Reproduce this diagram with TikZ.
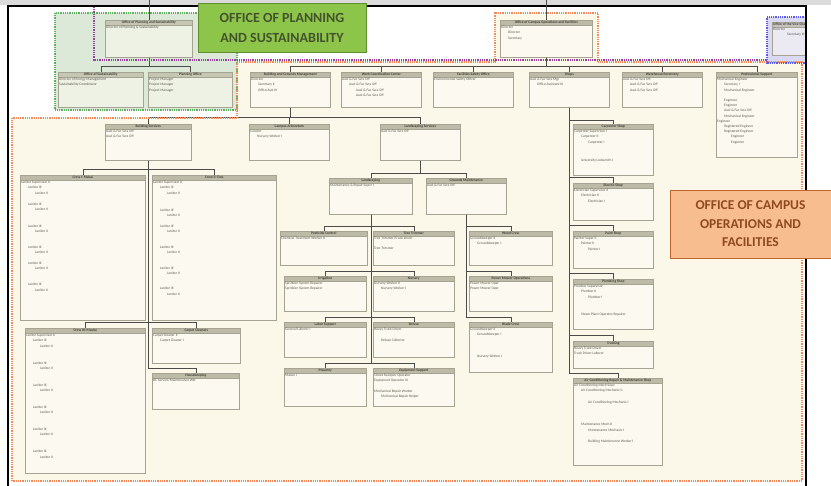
\documentclass[tikz,border=0pt]{standalone}
\usepackage{fontspec}
\setmainfont{Carlito}

\definecolor{chartcream}{HTML}{FBF8EA}
\definecolor{boxfill}{HTML}{FCFAF0}
\definecolor{boxline}{HTML}{A7A392}
\definecolor{headfill}{HTML}{BEBAA8}
\definecolor{inktext}{HTML}{5A574C}
\definecolor{planline}{HTML}{5DB05D}
\definecolor{planfill}{HTML}{DCE9D8}
\definecolor{opsline}{HTML}{F28A5C}
\definecolor{execline}{HTML}{9B3FA3}
\definecolor{bluline}{HTML}{5B5BE6}
\definecolor{blufill}{HTML}{D9D9F3}
\definecolor{greenlabel}{HTML}{8DC54B}
\definecolor{greenedge}{HTML}{5E8E2E}
\definecolor{greenink}{HTML}{44532C}
\definecolor{orangelabel}{HTML}{F8BD8E}
\definecolor{orangeedge}{HTML}{C0662C}
\definecolor{orangeink}{HTML}{8F4A1E}

\newcommand{\indA}{\hspace*{7pt}}
\newcommand{\indB}{\hspace*{14pt}}

\tikzset{
    unitbox/.style={draw=boxline,fill=boxfill,line width=0.6pt,inner sep=0pt,anchor=north west},
    unithead/.style={draw=boxline,fill=headfill,line width=0.6pt},
    headtext/.style={font=\fontsize{3.6}{4}\selectfont\bfseries,text=inktext!70!black,inner sep=0pt},
    bodytext/.style={font=\fontsize{3.6}{5.2}\selectfont,text=inktext,align=left,anchor=north west,inner sep=1pt},
    link/.style={draw=black!70,line width=0.5pt},
    zone/.style={line width=1.8pt,dash pattern=on 0.9pt off 0.9pt},
    callout/.style={font=\bfseries,align=center,line width=0.8pt,inner sep=0pt}
}

% name, x, y, width, height, title, body
\newcommand{\orgunit}[7]{%
    \node[unitbox,minimum width=#4pt,minimum height=#5pt] (#1) at (#2,#3) {};
    \draw[unithead] (#1.north west) rectangle ([yshift=-5pt]#1.north east);
    \node[headtext] (#1-t) at ([yshift=-2.5pt]#1.north) {#6};
    \node[bodytext] (#1-b) at ([yshift=-5pt]#1.north west) {#7};
}

\begin{document}
\begin{tikzpicture}[x=1pt,y=-1pt]
    \useasboundingbox (0,0) rectangle (831,486);
    \fill[white] (0,0) rectangle (831,486);
    \fill[black!14] (0,0) rectangle (831,5);

    % areas
    \fill[chartcream] (12,481) -- (12,118) -- (237,118) -- (237,62) -- (495,62) -- (495,13) -- (598,13) -- (598,62) -- (802,62) -- (802,481) -- cycle;
    \fill[planfill] (55,13) rectangle (237,110);
    \fill[blufill] (767,17) rectangle (806,63);

    % planning and sustainability
    \begin{scope}[unitbox/.append style={fill=boxfill!55!planfill},unithead/.append style={fill=headfill!75!planfill}]
        \orgunit{plan}{105}{20}{87}{37}{Office of Planning and Sustainability}{Director of Planning \& Sustainability}
        \orgunit{sust}{58}{72}{85}{35}{Office of Sustainability}{Director of Energy Management\\Sustainability Coordinator}
        \orgunit{pplan}{148}{72}{84}{35}{Planning Office}{Project Manager\\Project Manager\\Project Manager}
    \end{scope}
    \begin{scope}
        \clip (0,0) rectangle (806,486);
        \begin{scope}[unitbox/.append style={fill=boxfill!50!blufill},unithead/.append style={fill=headfill!70!blufill}]
            \orgunit{vcoff}{772}{22}{44}{33}{Office of the Vice Chancellor}{Director\\\indB Secretary III}
        \end{scope}
    \end{scope}

    % campus operations and facilities
    \orgunit{ops}{500}{20}{92}{37}{Office of Campus Operations and Facilities}{Director\\\indA Director\\\indA Secretary}
    \orgunit{bgm}{250}{72}{80}{35}{Building and Grounds Management}{Director\\\indA Secretary II\\\indA Office Asst III}
    \orgunit{wcc}{341}{72}{80}{35}{Work Coordination Center}{Auxl \& Fac Svcs Off\\\indA Auxl \& Fac Svcs Off\\\indB Auxl \& Fac Svcs Off\\\indB Auxl \& Fac Svcs Off}
    \orgunit{fso}{433}{72}{80}{35}{Facilities Safety Office}{Environmental Safety Officer}
    \orgunit{shops}{529}{72}{80}{35}{Shops}{Auxl \& Fac Svcs Mgr\\\indA Office Assistant III}
    \orgunit{whse}{622}{72}{80}{35}{Warehouse/Inventory}{Auxl \& Fac Svcs Off\\\indA Auxl \& Fac Svcs Off\\\indA Auxl \& Fac Svcs Off}
    \orgunit{prof}{716}{72}{81}{85}{Professional Support}{Mechanical Engineer\\\indA Secretary I\\\indA Mechanical Engineer\\[5.2pt]\indA Engineer\\\indA Engineer\\\indA Auxl \& Fac Svcs Off\\\indA Mechanical Engineer\\Engineer\\\indA Registered Engineer\\\indA Registered Engineer\\\indB Engineer\\\indB Engineer}

    \orgunit{bsvc}{105}{124}{86}{36}{Building Services}{Auxl \& Fac Svcs Off\\Auxl \& Fac Svcs Off}
    \orgunit{arbor}{249}{124}{80}{36}{Campus Arboretum}{Curator\\\indA Nursery Worker I}
    \orgunit{lsvc}{380}{124}{80}{36}{Landscaping Services}{Auxl \& Fac Svcs Off}

    \orgunit{crewa}{20}{175}{125}{145}{Crew I: Makai}{Janitor Supervisor II\\\indA Janitor III\\\indB Janitor II\\[5.8pt]\indA Janitor III\\\indB Janitor II\\[11.8pt]\indA Janitor III\\\indB Janitor II\\[10.8pt]\indA Janitor III\\\indB Janitor II\\[5.8pt]\indA Janitor III\\\indB Janitor II\\[10.8pt]\indA Janitor III\\\indB Janitor II}
    \orgunit{crewb}{152}{175}{124}{145}{Crew II: Ewa}{Janitor Supervisor II\\\indA Janitor III\\\indB Janitor II\\[11.8pt]\indA Janitor III\\\indB Janitor II\\[5.8pt]\indA Janitor III\\\indB Janitor II\\[10.8pt]\indA Janitor III\\\indB Janitor II\\[10.8pt]\indA Janitor III\\\indB Janitor II\\[9.8pt]\indA Janitor III\\\indB Janitor II}
    \orgunit{crewc}{25}{328}{120}{145}{Crew III: Mauka}{Janitor Supervisor II\\\indA Janitor III\\\indB Janitor II\\[11.8pt]\indA Janitor III\\\indB Janitor II\\[11.8pt]\indA Janitor III\\\indB Janitor II\\[11.8pt]\indA Janitor III\\\indB Janitor II\\[11.8pt]\indA Janitor III\\\indB Janitor II\\[11.8pt]\indA Janitor III\\\indB Janitor II}
    \orgunit{carpet}{152}{328}{88}{35}{Carpet Cleaners}{Carpet Cleaner II\\\indA Carpet Cleaner I}
    \orgunit{house}{152}{373}{87}{36}{Housekeeping}{BC Service/Maintenance Wkr}

    \orgunit{lands}{329}{178}{83}{36}{Landscaping}{Maintenance \& Repair Supvr I}
    \orgunit{grnd}{426}{178}{80}{36}{Grounds Maintenance}{Auxl \& Fac Svcs Off}
    \orgunit{pest}{280}{231}{87}{34}{Pesticide Control}{Chemical Treatment Worker II}
    \orgunit{tree}{373}{231}{81}{34}{Tree Trimmer}{Tree Trimmer/Truck Driver\\[5pt]Tree Trimmer}
    \orgunit{irrig}{284}{276}{82}{35}{Irrigation}{Sprinkler System Repairer\\Sprinkler System Repairer}
    \orgunit{nurs}{373}{276}{81}{35}{Nursery}{Nursery Worker II\\\indA Nursery Worker I}
    \orgunit{labor}{284}{322}{82}{35}{Labor Support}{General Laborer I}
    \orgunit{refuse}{373}{322}{81}{35}{Refuse}{Heavy Truck Driver\\[5.8pt]\indA Refuse Collector}
    \orgunit{mason}{284}{368}{82}{38}{Masonry}{Mason I}
    \orgunit{equip}{373}{368}{81}{38}{Equipment Support}{Street Sweeper Operator\\Equipment Operator III\\[5.2pt]Mechanical Repair Worker\\\indA Mechanical Repair Helper}
    \orgunit{weed}{469}{231}{83}{34}{Weed Crew}{Groundskeeper II\\\indA Groundskeeper I}
    \orgunit{mower}{469}{276}{83}{35}{Power Mower Operations}{Power Mower Oper\\Power Mower Oper}
    \orgunit{blade}{469}{322}{83}{50}{Blade Crew}{Groundskeeper II\\\indA Groundskeeper I\\[16.8pt]\indA Nursery Worker I}

    \orgunit{carp}{573}{124}{80}{51}{Carpenter Shop}{Carpenter Supervisor I\\\indA Carpenter II\\\indB Carpenter I\\[12.8pt]\indA University Locksmith I}
    \orgunit{elec}{573}{183}{80}{37}{Electric Shop}{Electrician Supervisor II\\\indA Electrician II\\\indB Electrician I}
    \orgunit{paint}{573}{231}{80}{37}{Paint Shop}{Painter Super II\\\indA Painter II\\\indB Painter I}
    \orgunit{plumb}{573}{279}{80}{50}{Plumbing Shop}{Plumber Supervisor\\\indA Plumber II\\\indB Plumber I\\[11.8pt]\indA Steam Plant Operator Repairer}
    \orgunit{truck}{573}{341}{80}{27}{Trucking}{Heavy Truck Driver\\Truck Driver Laborer}
    \orgunit{aircon}{573}{378}{89}{87}{Air Conditioning Repair \& Maintenance Shop}{Air Conditioning Mech Supv\\\indA Air Conditioning Mechanic II\\[6.8pt]\indB Air Conditioning Mechanic I\\[16.8pt]\indA Maintenance Mech II\\\indB Maintenance Mechanic I\\[5.8pt]\indB Building Maintenance Worker I}

    % connectors
    \draw[link] (plan.south) -- ++(0,9) -| (sust.north);
    \draw[link] (plan.south) -- ++(0,9) -| (pplan.north);
    \draw[link] (ops.south) -- ++(0,9) -| (bgm.north);
    \draw[link] (ops.south) -- ++(0,9) -| (wcc.north);
    \draw[link] (ops.south) -- ++(0,9) -| (fso.north);
    \draw[link] (ops.south) -- ++(0,9) -| (shops.north);
    \draw[link] (ops.south) -- ++(0,9) -| (whse.north);
    \draw[link] (ops.south) -- ++(0,9) -| (prof.north);
    \draw[link] (bgm.south) |- ([yshift=7pt]bsvc.north) -- (bsvc.north);
    \draw[link] (bgm.south) |- ([yshift=7pt]arbor.north) -- (arbor.north);
    \draw[link] (bgm.south) |- ([yshift=7pt]lsvc.north) -- (lsvc.north);
    \draw[link] (bsvc.south) |- ([yshift=6pt]crewa.north) -- (crewa.north);
    \draw[link] (bsvc.south) |- ([yshift=6pt]crewb.north) -- (crewb.north);
    \draw[link] (bsvc.south) |- ([yshift=6pt]crewc.north) -- (crewc.north);
    \draw[link] (bsvc.south) |- ([yshift=6pt]carpet.north) -- (carpet.north);
    \draw[link] (bsvc.south) |- ([yshift=5pt]house.north) -- (house.north);
    \draw[link] (lsvc.south) |- ([yshift=5pt]lands.north) -- (lands.north);
    \draw[link] (lsvc.south) |- ([yshift=5pt]grnd.north) -- (grnd.north);
    \draw[link] (lands.south) |- ([yshift=5pt]pest.north) -- (pest.north);
    \draw[link] (lands.south) |- ([yshift=5pt]tree.north) -- (tree.north);
    \draw[link] (lands.south) |- ([yshift=5pt]irrig.north) -- (irrig.north);
    \draw[link] (lands.south) |- ([yshift=5pt]nurs.north) -- (nurs.north);
    \draw[link] (lands.south) |- ([yshift=5pt]labor.north) -- (labor.north);
    \draw[link] (lands.south) |- ([yshift=5pt]refuse.north) -- (refuse.north);
    \draw[link] (lands.south) |- ([yshift=5pt]mason.north) -- (mason.north);
    \draw[link] (lands.south) |- ([yshift=5pt]equip.north) -- (equip.north);
    \draw[link] (grnd.south) |- ([yshift=5pt]weed.north) -- (weed.north);
    \draw[link] (grnd.south) |- ([yshift=5pt]mower.north) -- (mower.north);
    \draw[link] (grnd.south) |- ([yshift=5pt]blade.north) -- (blade.north);
    \draw[link] (shops.south) |- ([yshift=4pt]carp.north) -- (carp.north);
    \draw[link] (shops.south) |- ([yshift=6pt]elec.north) -- (elec.north);
    \draw[link] (shops.south) |- ([yshift=6pt]paint.north) -- (paint.north);
    \draw[link] (shops.south) |- ([yshift=6pt]plumb.north) -- (plumb.north);
    \draw[link] (shops.south) |- ([yshift=6pt]truck.north) -- (truck.north);
    \draw[link] (shops.south) |- ([yshift=5pt]aircon.north) -- (aircon.north);

    % dotted outlines
    \draw[zone,planline] (55,13) rectangle (237,110);
    \draw[zone,opsline] (12,481) -- (12,118) -- (237,118) -- (237,62) -- (495,62) -- (495,13) -- (598,13) -- (598,62) -- (802,62) -- (802,481) -- cycle;
    \draw[zone,execline] (94,7) -- (94,60) -- (767,60);
    \draw[zone,bluline] (806,17) -- (767,17) -- (767,63) -- (806,63);

    % frame
    \draw[line width=1.2pt] (8,486) -- (8,6) -- (806,6) -- (806,486);
    \draw[link] (plan.north) -- (plan.north |- 0,0);
    \draw[link] (ops.north) -- (ops.north |- 0,0);

    % labels
    \node[callout,fill=greenlabel,draw=greenedge,text=greenink,font=\fontsize{14}{20}\selectfont\bfseries,minimum width=168pt,minimum height=49pt] (planlabel) at (282,27.5) {OFFICE OF PLANNING\\AND SUSTAINABILITY};
    \node[callout,fill=orangelabel,draw=orangeedge,text=orangeink,font=\fontsize{13.5}{18.5}\selectfont\bfseries,minimum width=161pt,minimum height=68pt] (opslabel) at (750.5,224) {OFFICE OF CAMPUS\\OPERATIONS AND\\FACILITIES};
\end{tikzpicture}
\end{document}
